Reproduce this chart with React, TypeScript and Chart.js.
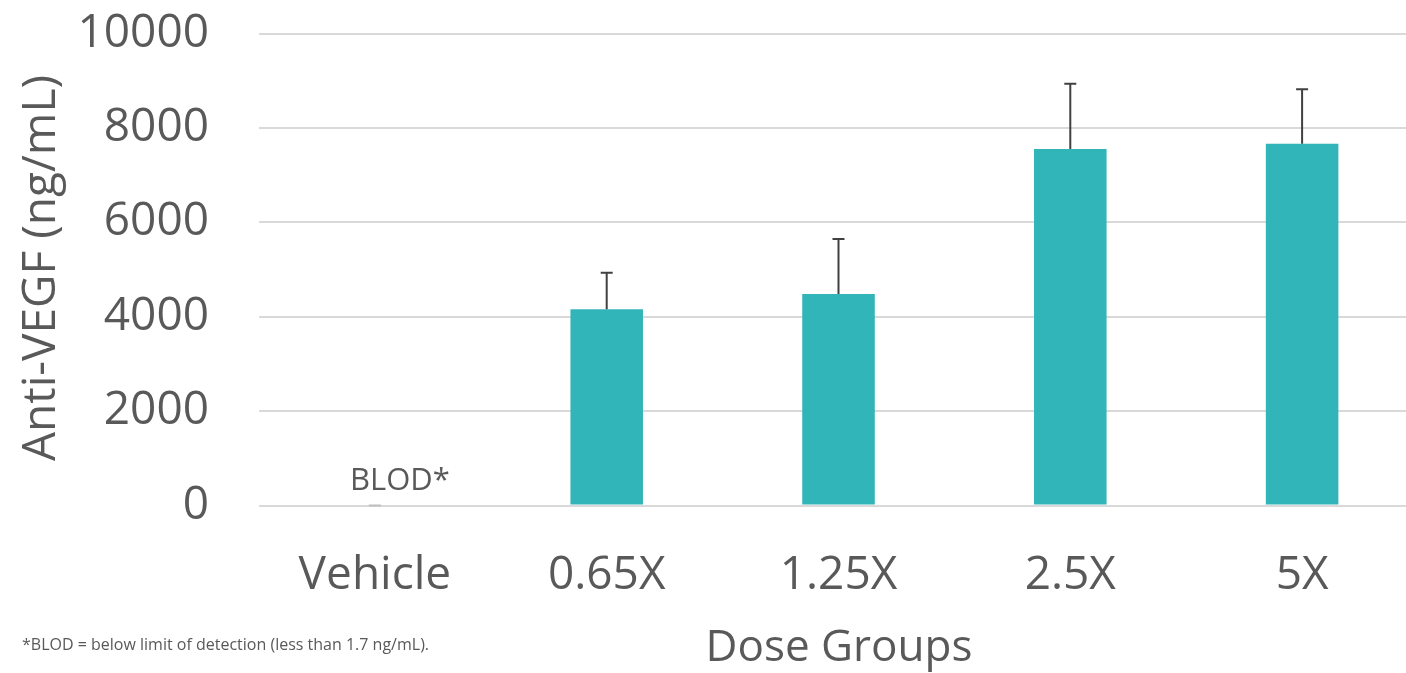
import React, { useEffect, useRef } from "react";
import { Chart, registerables } from "chart.js";

Chart.register(...registerables);

const categories = ["Vehicle", "0.65X", "1.25X", "2.5X", "5X"];
const means = [0, 4157, 4481, 7553, 7665];
const errors = [0, 775, 1165, 1383, 1153];
const yTicks = [0, 2000, 4000, 6000, 8000, 10000];
const yTitle = "Anti-VEGF (ng/mL)";
const xTitle = "Dose Groups";
const blodLabel = "BLOD*";
const footnote = "*BLOD = below limit of detection (less than 1.7 ng/mL).";

const FONT = "'Open Sans', 'Noto Sans', sans-serif";
const TEXT = "#595959";

const overlayPlugin = {
  id: "overlay",
  afterDatasetsDraw(chart: any) {
    const ctx = chart.ctx;
    const x = chart.scales.x;
    const y = chart.scales.y;
    ctx.save();
    // error bars
    means.forEach((m, i) => {
      const cx = x.getPixelForValue(i);
      const y0 = y.getPixelForValue(m);
      const y1 = y.getPixelForValue(m + errors[i]);
      ctx.strokeStyle = errors[i] === 0 ? "#bfbfbf" : "#404040";
      ctx.lineWidth = 2;
      ctx.beginPath();
      if (errors[i] > 0) {
        ctx.moveTo(cx, y0);
        ctx.lineTo(cx, y1);
      }
      ctx.moveTo(cx - 6, y1);
      ctx.lineTo(cx + 6, y1);
      ctx.stroke();
    });
    // BLOD label
    ctx.fillStyle = TEXT;
    ctx.font = `31px ${FONT}`;
    ctx.textAlign = "center";
    ctx.textBaseline = "middle";
    ctx.fillText(blodLabel, x.getPixelForValue(0) + 25, y.getPixelForValue(0) - 24);
    // axis titles
    ctx.font = `44px ${FONT}`;
    ctx.fillText(xTitle, 839, 648);
    ctx.save();
    ctx.translate(42, 268);
    ctx.rotate(-Math.PI / 2);
    ctx.font = `46px ${FONT}`;
    ctx.fillText(yTitle, 0, 0);
    ctx.restore();
    // footnote
    ctx.font = `16px ${FONT}`;
    ctx.textAlign = "left";
    ctx.fillText(footnote, 22, 645);
    ctx.restore();
  },
};

export default function App() {
  const ref = useRef<HTMLCanvasElement | null>(null);
  useEffect(() => {
    if (!ref.current) return;
    const chart = new Chart(ref.current, {
      type: "bar",
      data: {
        labels: categories,
        datasets: [
          {
            data: means,
            backgroundColor: "#32B5B8",
            borderWidth: 0,
            categoryPercentage: 1,
            barPercentage: 0.313,
          },
        ],
      },
      options: {
        animation: false,
        responsive: false,
        maintainAspectRatio: false,
        layout: { padding: { top: 33.5, left: 0, right: 0, bottom: 0 } },
        plugins: { legend: { display: false }, tooltip: { enabled: false } },
        scales: {
          x: {
            grid: { display: false, drawTicks: false },
            border: { display: false },
            ticks: { color: TEXT, font: { family: FONT, size: 46 }, padding: 43, maxRotation: 0 },
            afterFit(scale: any) {
              scale.height = 673 - 505.5;
              scale.paddingLeft = 0;
              scale.paddingRight = 0;
            },
          },
          y: {
            min: 0,
            max: 10000,
            afterBuildTicks(scale: any) {
              scale.ticks = yTicks.map((v) => ({ value: v }));
            },
            grid: { color: "#d9d9d9", lineWidth: 2, drawTicks: false },
            border: { display: false },
            ticks: {
              color: TEXT,
              font: { family: FONT, size: 46 },
              padding: 50,
              callback: (v: any) => String(v),
            },
            afterFit(scale: any) {
              scale.width = 259;
              scale.paddingTop = 0;
              scale.paddingBottom = 0;
            },
          },
        },
      },
      plugins: [overlayPlugin],
    });
    return () => chart.destroy();
  }, []);
  return (
    <div style={{ position: "fixed", left: 0, top: 0, width: 1406, height: 673, overflow: "hidden", background: "#fff" }}>
      <canvas ref={ref} width={1418} height={673} style={{ width: 1418, height: 673, display: "block" }} />
    </div>
  );
}
